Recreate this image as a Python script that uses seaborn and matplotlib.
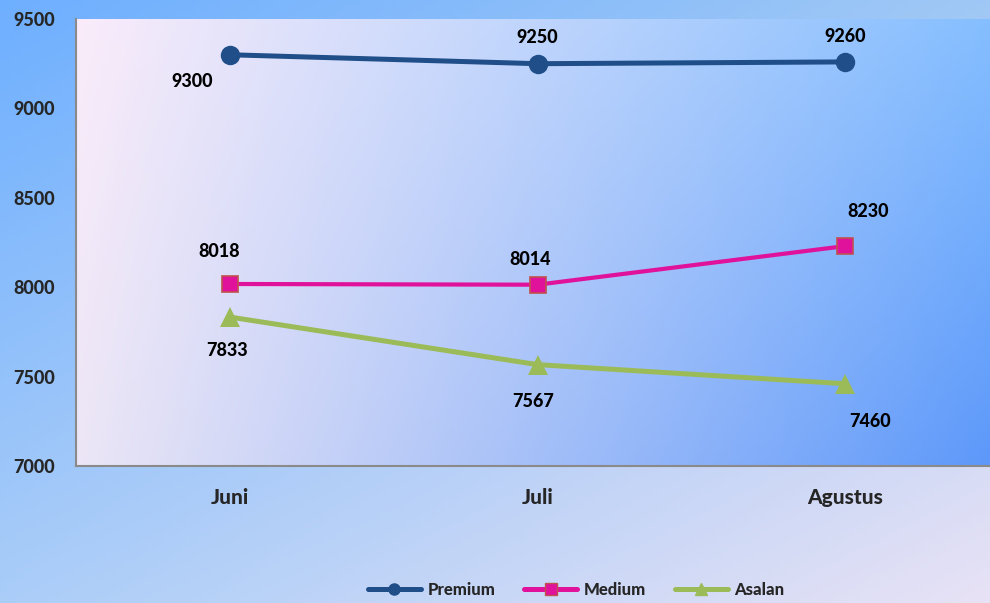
import numpy as np
import pandas as pd
import seaborn as sns
import matplotlib.pyplot as plt

# data
bulan = ["Juni", "Juli", "Agustus"]
premium = [9300, 9250, 9260]
medium = [8018, 8014, 8230]
asalan = [7833, 7567, 7460]
jenis = ["Premium", "Medium", "Asalan"]

colors = {"Premium": "#1f4e89", "Medium": "#e0119a", "Asalan": "#9bbb59"}
markers = {"Premium": "o", "Medium": "s", "Asalan": "^"}
# label offsets in pixels (dx, dy) for each series / month
offsets = {
    "Premium": [(-38, -27), (0, 26), (0, 25)],
    "Medium": [(-11, 32), (-7, 25), (23, 35)],
    "Asalan": [(-3, -33), (-4, -37), (25, -38)],
}
W = 900  # heavy weight, closer to the Calibri bold of the original


def gradient(tl, tr, bl, br, h=120, w=240):
    """bilinear colour gradient from four corner colours"""
    tl, tr, bl, br = [np.array(c) / 255.0 for c in (tl, tr, bl, br)]
    u = np.linspace(0, 1, w)[None, :, None]
    v = np.linspace(0, 1, h)[:, None, None]
    img = (1 - u) * (1 - v) * tl + u * (1 - v) * tr + (1 - u) * v * bl + u * v * br
    return np.clip(img, 0, 1)


df = pd.DataFrame({
    "bulan": bulan * 3,
    "harga": premium + medium + asalan,
    "jenis": [j for j in jenis for _ in bulan],
})

sns.set_theme(style="white")
plt.rcParams["font.family"] = ["Lato", "DejaVu Sans"]
plt.rcParams["font.weight"] = W

fig = plt.figure(figsize=(9.9, 6.03), dpi=100)

# figure background gradient
bg = fig.add_axes([0, 0, 1, 1], zorder=-5)
bg.imshow(gradient((110, 175, 255), (160, 200, 245), (170, 205, 248), (232, 226, 245)),
          aspect="auto", extent=[0, 1, 0, 1])
bg.axis("off")

ax = fig.add_axes([76 / 990, 1 - 466 / 603, (999 - 76) / 990, (466 - 19) / 603])
ax.patch.set_alpha(0)

# plot-area gradient
ax.imshow(gradient((250, 236, 250), (132, 190, 255), (236, 230, 246), (92, 152, 250)),
          aspect="auto", extent=[-0.5, 2.5, 7000, 9500], zorder=0)

sns.lineplot(data=df, x="bulan", y="harga", hue="jenis", style="jenis",
             palette=colors, markers=markers, dashes=False, ax=ax,
             linewidth=3.6, markersize=14, markeredgewidth=0, legend=False, zorder=3)

for line, j in zip(ax.get_lines(), jenis):
    if j == "Medium":
        line.set_linewidth(3.0)
        line.set_markersize(12)
        line.set_markeredgecolor("#c0504d")
        line.set_markeredgewidth(1.2)

values = {"Premium": premium, "Medium": medium, "Asalan": asalan}
for j in jenis:
    for i, val in enumerate(values[j]):
        dx, dy = offsets[j][i]
        ax.annotate(str(val), (i, val), xytext=(dx * 0.72, dy * 0.72),
                    textcoords="offset points", ha="center", va="center",
                    fontsize=13, fontweight=W, color="black", zorder=5)

ax.set_xlim(-0.5, 2.5)
ax.set_ylim(7000, 9500)
ax.set_yticks([7000, 7500, 8000, 8500, 9000, 9500])
ax.set_xlabel("")
ax.set_ylabel("")
ax.tick_params(axis="y", length=0, pad=15, labelsize=13)
ax.tick_params(axis="x", length=0, pad=16, labelsize=15)
for lab in ax.get_xticklabels() + ax.get_yticklabels():
    lab.set_fontweight(W)
for s in ["top", "right"]:
    ax.spines[s].set_visible(False)
for s in ["left", "bottom"]:
    ax.spines[s].set_color("#8a8a8a")
    ax.spines[s].set_linewidth(1.5)

handles = []
for j in jenis:
    h, = ax.plot([], [], color=colors[j], marker=markers[j], lw=3.6, markersize=8,
                 markeredgecolor="#c0504d" if j == "Medium" else colors[j])
    handles.append(h)
fig.legend(handles, jenis, loc="center", bbox_to_anchor=(0.582, 0.022), ncol=3,
           frameon=False, handlelength=3.2, columnspacing=1.7, handletextpad=0.4,
           prop={"weight": W, "size": 12})

fig.savefig("out.png", dpi=100)
